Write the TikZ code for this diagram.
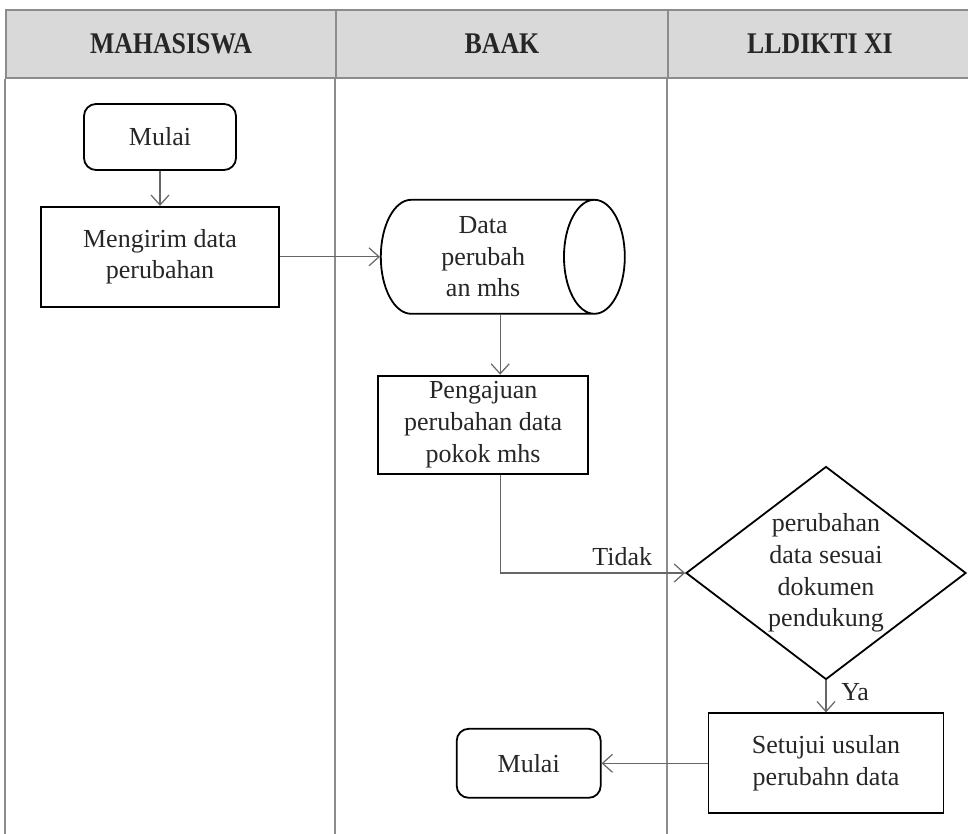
\documentclass[tikz,border=0pt]{standalone}
\usepackage{fontspec}
\setmainfont{Liberation Serif}
\newfontfamily\headfont[FakeStretch=0.86]{Liberation Serif}
\usetikzlibrary{positioning,shapes.geometric,arrows.meta}

\begin{document}
\begin{tikzpicture}[x=0.5pt,y=-0.5pt,>={Straight Barb[length=5pt,width=9pt]},
	every node/.style={font=\fontsize{13}{15.8}\selectfont,text=black!85},
	lane/.style={draw=black!45,line width=1pt},
	headcell/.style={draw=black!45,line width=1pt,fill=black!15,
		minimum height=34pt,inner sep=0pt,
		font=\fontsize{15}{18}\headfont\bfseries},
	process/.style={draw,line width=0.9pt,align=center,
		minimum width=119pt,minimum height=50pt,inner sep=2pt},
	terminal/.style={draw,line width=0.9pt,rounded corners=6pt,
		minimum width=76pt,minimum height=33pt},
	store/.style={cylinder,draw,line width=0.9pt,align=center,aspect=0.72,
		minimum width=57pt,minimum height=122pt,inner sep=1pt},
	decision/.style={diamond,draw,line width=0.9pt,align=center,aspect=1.31,
		inner sep=0pt,minimum width=140pt,minimum height=106.5pt},
	flow/.style={->,draw=black!60,line width=0.6pt}]
	\useasboundingbox (0,0) rectangle (968,834);
	\clip (0,0) rectangle (968,834);

	% swimlane header and lanes
	\node[headcell,minimum width=165pt] (hmhs) at (171,44) {MAHASISWA};
	\node[headcell,minimum width=166pt] (hbaak) at (502,44) {BAAK};
	\node[headcell,minimum width=152pt] (hlldikti) at (820,44) {LLDIKTI XI};
	\draw[lane] (hmhs.south west) -- ++(0,770);
	\draw[lane] (hbaak.south west) -- ++(0,770);
	\draw[lane] (hlldikti.south west) -- ++(0,770);

	% create the nodes.
	\node[terminal] (start) at (160,137) {Mulai};
	\node[process,below=17.5pt of start] (send) {Mengirim data\\perubahan};
	\node[store,right=50pt of send] (datamhs) {Data\\perubah\\an mhs};
	\node[process,minimum width=105pt,minimum height=49pt,
		below=30pt of datamhs] (submit)
		{Pengajuan\\perubahan data\\pokok mhs};
	\node[decision] (check) at (826,573)
		{perubahan\\data sesuai\\dokumen\\pendukung};
	\node[process,minimum width=117.5pt,below=16pt of check] (approve)
		{Setujui usulan\\perubahn data};
	\node[terminal,minimum width=72pt,minimum height=34.5pt,
		left=53pt of approve] (finish) {Mulai};
	\coordinate (down) at ([xshift=8.5pt]datamhs.south);

	% connect the nodes
	\draw[flow] (start) -- (send);
	\draw[flow] (send) -- (datamhs);
	\draw[flow] (down) -- (down |- submit.north);
	\draw[flow] (down |- submit.south) |- node[above,pos=0.83] {Tidak} (check.west);
	\draw[flow] (check) -- node[right=4pt,pos=0.35] {Ya} (approve);
	\draw[flow] (approve) -- (finish);
\end{tikzpicture}
\end{document}
